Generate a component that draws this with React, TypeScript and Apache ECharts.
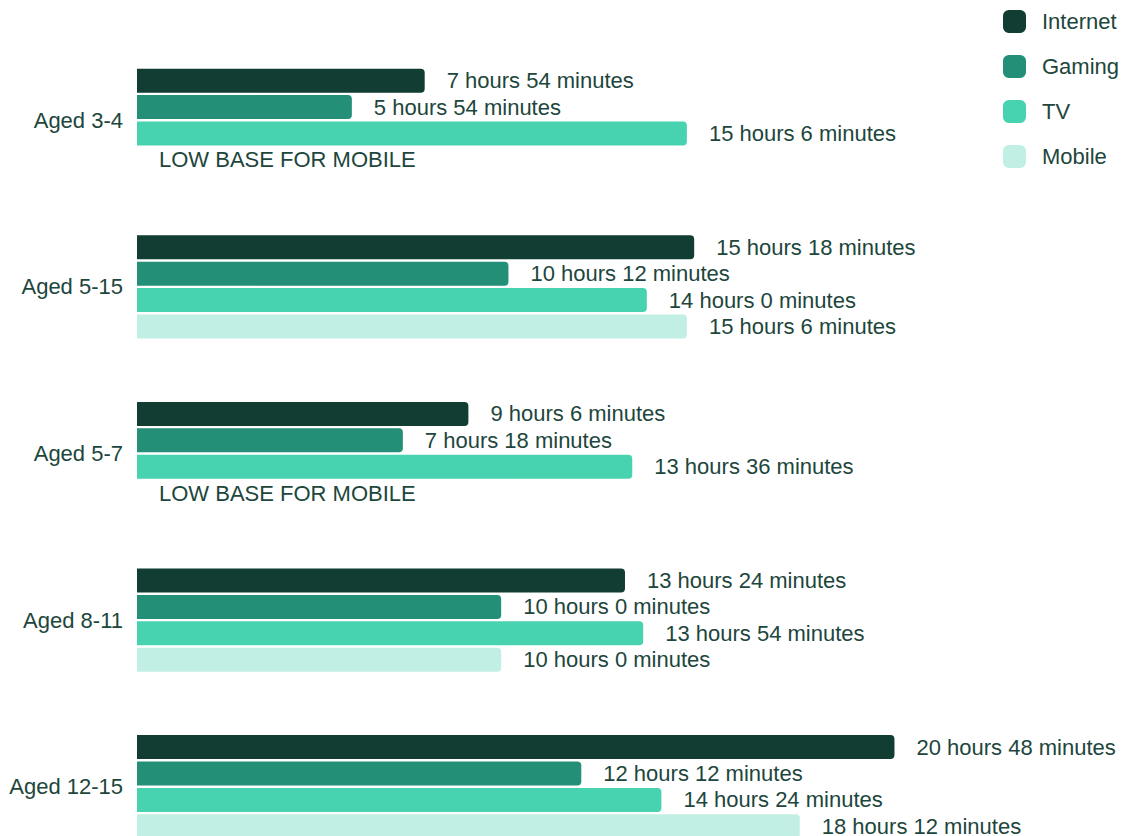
import React, { useEffect, useRef } from "react";
import * as echarts from "echarts";

// Weekly time spent per activity, in minutes, by age group
const categories = ["Aged 3-4", "Aged 5-15", "Aged 5-7", "Aged 8-11", "Aged 12-15"];
const seriesNames = ["Internet", "Gaming", "TV", "Mobile"];
const internetMinutes = [474, 918, 546, 804, 1248];
const gamingMinutes = [354, 612, 438, 600, 732];
const tvMinutes = [906, 840, 816, 834, 864];
const mobileMinutes: (number | null)[] = [null, 906, null, 600, 1092];
const lowBaseText = "LOW BASE FOR MOBILE";

const colors = ["#113d33", "#238f77", "#47d3b0", "#c2efe3"];
const textColor = "#1d463c";
const fontFamily = "'Liberation Sans', Arial, Helvetica, sans-serif";

function formatMinutes(total: number | null): string {
  if (total == null) return lowBaseText;
  const h = Math.floor(total / 60);
  const m = total % 60;
  return `${h} hours ${m} minutes`;
}

export default function App() {
  const ref = useRef<HTMLDivElement>(null);

  useEffect(() => {
    if (!ref.current) return;
    const chart = echarts.init(ref.current, undefined, { renderer: "svg" });
    const all = [internetMinutes, gamingMinutes, tvMinutes, mobileMinutes];

    const series = all.map((arr, i) => ({
      name: seriesNames[i],
      type: "bar" as const,
      barWidth: 24,
      barGap: "10%",
      itemStyle: { color: colors[i], borderRadius: [0, 4, 4, 0] },
      data: arr.map((v) => ({ value: v == null ? 0 : v / 60, minutes: v })),
      label: {
        show: true,
        position: "right" as const,
        distance: 22,
        color: textColor,
        fontSize: 22,
        fontFamily,
        formatter: (p: any) => formatMinutes(p.data.minutes),
      },
    }));

    chart.setOption({
      animation: false,
      backgroundColor: "#ffffff",
      legend: {
        orient: "vertical",
        left: 1003,
        top: 10,
        padding: 0,
        itemWidth: 23,
        itemHeight: 23,
        itemGap: 22,
        icon: "roundRect",
        data: seriesNames,
        textStyle: {
          color: textColor,
          fontSize: 22,
          fontFamily,
          padding: [0, 0, 0, 11],
        },
      },
      grid: { left: 137, right: 110, top: 37, bottom: 30, containLabel: false },
      xAxis: {
        type: "value",
        min: 0,
        max: 24,
        show: false,
      },
      yAxis: {
        type: "category",
        data: categories,
        inverse: true,
        axisLine: { show: false },
        axisTick: { show: false },
        axisLabel: {
          color: textColor,
          fontSize: 22,
          fontFamily,
          margin: 14,
        },
      },
      series,
    });

    return () => chart.dispose();
  }, []);

  return (
    <div
      ref={ref}
      style={{ position: "absolute", left: 0, top: 0, width: 1121, height: 900 }}
    />
  );
}
